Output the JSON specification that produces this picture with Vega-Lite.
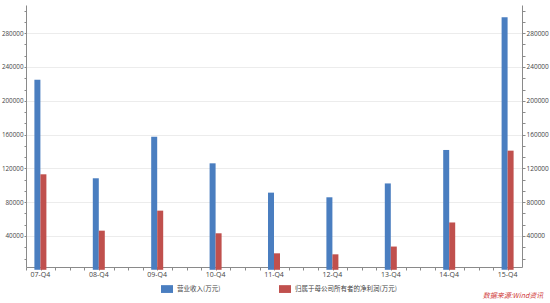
{
  "$schema": "https://vega.github.io/schema/vega-lite/v6.json",
  "width": 496,
  "height": 262,
  "autosize": {"type": "none"},
  "padding": {"left": 26, "top": 5, "right": 28, "bottom": 36},
  "background": "white",
  "config": {
    "view": {"stroke": null},
    "font": "Open Sans",
    "axis": {"labelFont": "Open Sans", "labelFontSize": 7, "labelColor": "#444", "domainColor": "#8a8a8a", "tickColor": "#8a8a8a", "gridColor": "#ececec", "titleFontSize": 0}
  },
  "title": {"text": "数据来源:Wind资讯", "orient": "bottom", "anchor": "end", "font": "Noto Sans CJK SC", "fontSize": 7, "fontStyle": "italic", "fontWeight": "normal", "color": "#D03A3A", "offset": -1, "dx": -5},
  "data": {"values": [
    {"q": "07-Q4", "s": "营业收入(万元)", "v": 225000},
    {"q": "07-Q4", "s": "归属于母公司所有者的净利润(万元)", "v": 113000},
    {"q": "08-Q4", "s": "营业收入(万元)", "v": 108300},
    {"q": "08-Q4", "s": "归属于母公司所有者的净利润(万元)", "v": 46300},
    {"q": "09-Q4", "s": "营业收入(万元)", "v": 157500},
    {"q": "09-Q4", "s": "归属于母公司所有者的净利润(万元)", "v": 70000},
    {"q": "10-Q4", "s": "营业收入(万元)", "v": 126000},
    {"q": "10-Q4", "s": "归属于母公司所有者的净利润(万元)", "v": 43200},
    {"q": "11-Q4", "s": "营业收入(万元)", "v": 91300},
    {"q": "11-Q4", "s": "归属于母公司所有者的净利润(万元)", "v": 19500},
    {"q": "12-Q4", "s": "营业收入(万元)", "v": 85800},
    {"q": "12-Q4", "s": "归属于母公司所有者的净利润(万元)", "v": 18300},
    {"q": "13-Q4", "s": "营业收入(万元)", "v": 102200},
    {"q": "13-Q4", "s": "归属于母公司所有者的净利润(万元)", "v": 27500},
    {"q": "14-Q4", "s": "营业收入(万元)", "v": 141800},
    {"q": "14-Q4", "s": "归属于母公司所有者的净利润(万元)", "v": 56000},
    {"q": "15-Q4", "s": "营业收入(万元)", "v": 298900},
    {"q": "15-Q4", "s": "归属于母公司所有者的净利润(万元)", "v": 141000}
  ]},
  "layer": [
    {
      "mark": {"type": "bar"},
      "encoding": {
        "x": {"field": "q", "type": "nominal", "sort": null,
              "scale": {"paddingInner": 0.7945, "paddingOuter": 0.1438},
              "axis": {"title": null, "labelAngle": 0, "ticks": false, "labelPadding": 3, "domainColor": "#8a8a8a"}},
        "xOffset": {"field": "s", "type": "nominal", "sort": ["营业收入(万元)", "归属于母公司所有者的净利润(万元)"], "scale": {"paddingInner": 0, "paddingOuter": 0}},
        "y": {"field": "v", "type": "quantitative",
              "scale": {"domain": [3300, 313360], "zero": false, "nice": false},
              "axis": {"title": null, "orient": "left", "format": "d",
                       "values": [13333.33, 26666.67, 40000, 53333.33, 66666.67, 80000, 93333.33, 106666.67, 120000, 133333.33, 146666.67, 160000, 173333.33, 186666.67, 200000, 213333.33, 226666.67, 240000, 253333.33, 266666.67, 280000, 293333.33, 306666.67],
                       "labelExpr": "datum.value % 40000 === 0 ? datum.label : ''",
                       "labelFontSize": 6.3, "tickSize": 2, "labelPadding": 1,
                       "grid": true,
                       "gridOpacity": {"condition": {"test": "datum.value % 40000 === 0", "value": 1}, "value": 0}}},
        "color": {"field": "s", "type": "nominal",
                  "scale": {"domain": ["营业收入(万元)", "归属于母公司所有者的净利润(万元)"], "range": ["#4A7EC0", "#C0504D"]},
                  "legend": {"title": null, "orient": "none", "legendX": 135, "legendY": 278, "direction": "horizontal", "columns": 2,
                             "symbolType": "M-1,-0.65H1V0.65H-1Z", "symbolSize": 144, "symbolStrokeWidth": 0,
                             "labelFont": "Noto Sans CJK SC", "labelFontSize": 6.5, "labelColor": "#444", "labelOffset": 4,
                             "columnPadding": 58, "labelLimit": 300}}
      }
    },
    {
      "mark": {"type": "bar", "opacity": 0},
      "encoding": {
        "x": {"field": "q", "type": "nominal", "sort": null, "scale": {"paddingInner": 0.7945, "paddingOuter": 0.1438}, "axis": null},
        "y": {"field": "v", "type": "quantitative",
              "scale": {"domain": [3300, 313360], "zero": false, "nice": false},
              "axis": {"title": null, "orient": "right", "format": "d",
                       "values": [13333.33, 26666.67, 40000, 53333.33, 66666.67, 80000, 93333.33, 106666.67, 120000, 133333.33, 146666.67, 160000, 173333.33, 186666.67, 200000, 213333.33, 226666.67, 240000, 253333.33, 266666.67, 280000, 293333.33, 306666.67],
                       "labelExpr": "datum.value % 40000 === 0 ? datum.label : ''",
                       "labelFontSize": 6.5, "tickSize": 3, "labelPadding": 1, "grid": false}}
      }
    },
    {
      "mark": {"type": "rule", "opacity": 0},
      "encoding": {
        "x": {"datum": 0, "type": "quantitative",
              "scale": {"domain": [0, 33.97], "zero": false, "nice": false},
              "axis": {"orient": "bottom", "title": null, "labels": false, "domain": false, "grid": false, "ticks": true, "tickSize": 3,
                       "values": [0,1,2,3,4,5,6,7,8,9,10,11,12,13,14,15,16,17,18,19,20,21,22,23,24,25,26,27,28,29,30,31,32,33]}}
      }
    }
  ],
  "resolve": {"scale": {"y": "independent", "x": "independent"}, "axis": {"x": "independent", "y": "independent"}}
}
